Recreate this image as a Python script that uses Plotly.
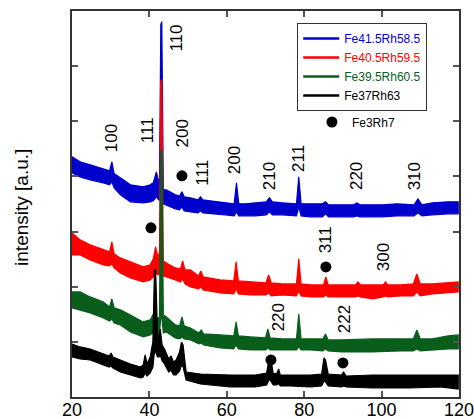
import plotly.graph_objects as go

# XRD patterns of Fe-Rh films (stacked, arbitrary units).
# Each pattern is stored as the upper and lower edge of its noisy trace.

tt_b = [20.0, 22.1, 24.7, 28.1, 29.7, 30.3, 30.9, 32.5, 35.1, 38.4, 40.2, 41.0, 41.8, 42.4,
        42.6, 42.95, 43.2, 43.6, 44.4, 46.7, 47.8, 48.4, 49.0, 50.6, 52.6, 53.2, 53.8, 55.7,
        59.6, 61.9, 62.5, 63.1, 64.8, 67.4, 70.2, 71.0, 71.8, 74.4, 78.0, 78.6, 79.2, 81.6,
        84.7, 85.5, 86.3, 89.8, 92.8, 93.6, 94.4, 100.2, 104.0, 108.4, 109.4, 110.4, 113.1,
        117.2, 119.8]
hi_b = [240, 235, 232, 228, 226, 235, 223, 219, 212, 210, 212, 214, 225, 215,
        214, 372, 375, 207, 207, 202, 201, 205, 200, 199, 197, 200, 197, 196,
        194, 193, 214, 193, 193, 194, 195, 199, 195, 194, 193, 220, 193, 193,
        193, 195, 192, 192, 192, 194, 192, 192, 193, 192, 198, 192, 194,
        195, 195]
lo_b = [224, 220, 217, 214, 212, 215, 209, 202, 195, 194, 195, 196, 200, 197,
        197, 215, 215, 193, 192, 188, 187, 190, 186, 185, 184, 186, 184, 183,
        182, 181, 185, 181, 181, 181, 182, 185, 182, 182, 181, 190, 181, 180,
        180, 183, 180, 180, 180, 181, 180, 180, 181, 181, 184, 181, 182,
        183, 183]

tt_r = [20.0, 22.1, 24.7, 28.1, 29.7, 30.3, 30.9, 32.5, 35.1, 38.4, 40.2, 41.0, 41.6, 42.2,
        42.6, 42.95, 43.2, 43.6, 44.4, 46.7, 48.0, 48.6, 49.2, 50.6, 52.7, 53.3, 53.9, 58.3,
        61.8, 62.4, 63.0, 66.1, 70.1, 70.8, 71.5, 74.3, 78.0, 78.6, 79.2, 81.6, 85.0, 85.6,
        86.2, 89.8, 93.3, 93.9, 94.5, 97.6, 100.4, 101.0, 101.6, 104.8, 108.2, 109.1, 110.0,
        113.1, 117.2, 119.8]
hi_r = [164, 157, 152, 147, 145, 155, 143, 139, 135, 130, 132, 138, 150, 140,
        145, 315, 317, 136, 134, 129, 128, 136, 127, 127, 121, 126, 120, 117,
        116, 135, 116, 115, 114, 122, 114, 113, 113, 138, 113, 112, 112, 120,
        112, 112, 112, 115, 112, 112, 112, 115, 112, 112, 113, 123, 113,
        113, 114, 115]
lo_r = [142, 142, 137, 132, 131, 133, 129, 124, 119, 115, 117, 120, 125, 122,
        123, 140, 140, 121, 120, 117, 115, 118, 113, 110, 108, 110, 107, 104,
        103, 108, 103, 102, 102, 104, 101, 102, 101, 106, 101, 100, 100, 102,
        100, 100, 100, 101, 100, 98, 100, 101, 100, 101, 101, 105, 101,
        103, 104, 105]

tt_g = [20.0, 22.1, 24.7, 28.1, 29.7, 30.3, 30.9, 32.5, 35.1, 38.4, 40.2, 41.3, 42.0,
        42.6, 42.95, 43.2, 43.6, 44.4, 46.7, 47.8, 48.4, 49.0, 50.6, 52.8, 53.4, 54.0, 58.3,
        61.8, 62.4, 63.0, 66.1, 70.0, 70.6, 71.2, 74.3, 78.0, 78.6, 79.2, 81.6, 84.8, 85.5,
        86.2, 89.8, 97.6, 104.8, 108.2, 109.1, 110.0, 113.1, 117.2, 119.8]
hi_g = [105, 105, 100, 95, 90, 98, 89, 87, 82, 75, 77, 85, 78,
        80, 245, 247, 82, 80, 72, 71, 80, 71, 69, 64, 67, 63, 62,
        61, 75, 61, 60, 59, 68, 59, 58, 58, 83, 58, 58, 58, 63,
        57, 57, 58, 58, 58, 67, 58, 58, 61, 62]
lo_g = [89, 87, 84, 79, 76, 78, 74, 72, 65, 60, 62, 65, 62,
        63, 80, 80, 64, 65, 59, 58, 60, 58, 57, 53, 54, 52, 49,
        48, 52, 48, 47, 47, 49, 47, 47, 47, 50, 47, 47, 46, 48,
        46, 45, 45, 46, 46, 48, 46, 47, 48, 48]

tt_k = [20.0, 22.1, 24.7, 28.1, 29.6, 30.1, 30.6, 32.5, 35.1, 37.7, 38.4, 38.9, 39.4,
        40.2, 40.9, 41.3, 41.6, 42.1, 42.5, 42.8, 43.3, 43.9, 45.0, 45.6, 46.2, 46.9, 47.8,
        48.3, 48.7, 49.5, 53.2, 60.9, 67.4, 70.3, 71.0, 71.4, 72.0, 73.0, 73.4, 73.8, 76.4,
        81.6, 84.5, 85.1, 85.5, 86.2, 89.6, 90.2, 90.8, 97.6, 107.4, 115.2, 119.8]
hi_k = [53, 50, 48, 43, 41, 44, 40, 37, 33, 30, 32, 42, 33,
        40, 55, 126, 128, 62, 60, 68, 52, 48, 38, 41, 35, 37, 45,
        55, 52, 25, 23, 22, 22, 24, 40, 38, 23, 24, 28, 22, 22,
        22, 23, 39, 37, 23, 22, 25, 21, 22, 22, 22, 22]
lo_k = [40, 38, 37, 32, 30, 31, 29, 25, 22, 19, 20, 24, 21,
        24, 30, 45, 45, 40, 40, 42, 36, 33, 25, 27, 22, 22, 26,
        32, 30, 17, 13, 10, 10, 12, 18, 16, 12, 12, 14, 11, 11,
        10, 11, 16, 15, 11, 10, 11, 10, 9, 9, 10, 8]

# Fe3Rh7 phase reflections
fe3rh7_tt = [48.4, 40.4, 85.6, 71.4, 90.0]
fe3rh7_int = [221, 169, 130, 37, 34]

series_names = ["Fe41.5Rh58.5", "Fe40.5Rh59.5", "Fe39.5Rh60.5", "Fe37Rh63"]
colors = ["#0000cc", "#ff0000", "#0a5e1c", "#000000"]
edges = [(tt_b, hi_b, lo_b), (tt_r, hi_r, lo_r), (tt_g, hi_g, lo_g), (tt_k, hi_k, lo_k)]

# Miller index labels: (text, 2theta, height)
hkl_labels = [
    ("100", 30.2, 259), ("111", 39.5, 267), ("110", 47.1, 359), ("200", 48.6, 263),
    ("111", 53.8, 224), ("200", 62.2, 237), ("210", 71.0, 221), ("211", 78.7, 238),
    ("220", 93.7, 221), ("310", 108.5, 220), ("311", 85.5, 157), ("300", 100.7, 140),
    ("220", 73.6, 80), ("222", 90.6, 78),
]

FONT = "Liberation Sans, Arial, sans-serif"
Y_TOP = 385.7

fig = go.Figure()

for (tt, hi, lo), c in zip(edges, colors):
    fig.add_trace(go.Scatter(
        x=list(tt) + list(tt)[::-1], y=list(hi) + list(lo)[::-1],
        mode="lines", fill="toself", fillcolor=c,
        line=dict(color=c, width=1.2), showlegend=False, hoverinfo="skip"))

for name, c in zip(series_names, colors):
    fig.add_trace(go.Scatter(
        x=[None], y=[None], mode="lines", line=dict(color=c, width=2.5),
        name=f"<span style='color:{c}'>{name}</span>", legend="legend"))

fig.add_trace(go.Scatter(
    x=fe3rh7_tt, y=fe3rh7_int, mode="markers", name="Fe3Rh7",
    marker=dict(color="black", size=11), legend="legend2"))

for text, x, y in hkl_labels:
    fig.add_annotation(x=x, y=y, text=text, showarrow=False, textangle=-90,
                       font=dict(size=17, color="black", family=FONT))

fig.add_annotation(xref="paper", yref="paper", x=-0.129, y=0.49, text="intensity [a.u.]",
                   xanchor="center", yanchor="middle",
                   showarrow=False, textangle=-90,
                   font=dict(size=19, color="black", family=FONT))

axis_common = dict(showline=True, linecolor="#333", linewidth=1.5, mirror="ticks",
                   ticks="inside", ticklen=6, tickcolor="#555", tickwidth=1.5,
                   showgrid=False, zeroline=False, automargin=False)

fig.update_layout(
    width=474, height=419,
    margin=dict(l=72, r=15, t=11, b=22),
    paper_bgcolor="white", plot_bgcolor="white",
    xaxis=dict(range=[20, 120], tickvals=[20, 40, 60, 80, 100, 120],
               ticklabeloverflow="allow", ticklabelstandoff=-4,
               tickfont=dict(size=18, color="black", family=FONT), **axis_common),
    yaxis=dict(range=[0, Y_TOP], tick0=0, dtick=Y_TOP / 7, showticklabels=False,
               **axis_common),
    legend=dict(x=0.582, y=0.969, xanchor="left", yanchor="top",
                bordercolor="#333", borderwidth=1, bgcolor="white",
                font=dict(size=12, family=FONT, color="black"),
                itemwidth=36, tracegroupgap=0, traceorder="normal"),
    legend2=dict(x=0.62, y=0.75, xanchor="left", yanchor="top",
                 borderwidth=0, bgcolor="rgba(0,0,0,0)",
                 font=dict(size=12, family=FONT, color="black")),
    showlegend=True,
)

fig.write_html("out.html")
